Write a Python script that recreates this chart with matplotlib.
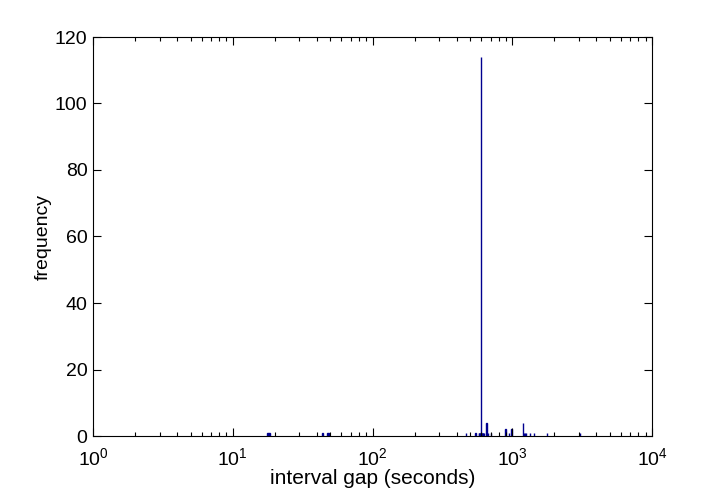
import matplotlib
matplotlib.use("Agg")
import matplotlib.pyplot as plt
from matplotlib.ticker import LogLocator

plt.rcParams['font.family'] = ['Liberation Sans', 'DejaVu Sans']
plt.rcParams['mathtext.default'] = 'regular'

# interval gaps (seconds) and their counts
gaps = [18, 44, 48, 467, 546, 575, 580, 585, 590, 595, 600, 605, 610, 615, 620, 625,
        654, 671, 707, 895, 953, 988, 1200, 1220, 1240, 1260, 1346, 1439, 1774, 3053]
counts = [1, 1, 1, 1, 1, 1, 1, 1, 1, 1, 114, 1, 1, 1, 1, 1,
          4, 1, 1, 2, 1, 2, 4, 1, 1, 1, 1, 1, 1, 1]

yticks = [0, 20, 40, 60, 80, 100, 120]

fig = plt.figure(figsize=(7.19, 4.98), dpi=100)
ax = fig.add_axes([93/719, 62/498, (652-93)/719, (436-37)/498])

color = '#00008F'
ax.bar(gaps, counts, width=1.0, color=color, edgecolor=color, linewidth=1.0, align='center')

ax.set_xscale('log')
ax.set_xlim(1, 1e4)
ax.set_ylim(0, 120)
ax.set_yticks(yticks)
ax.xaxis.set_major_locator(LogLocator(base=10, numticks=10))
ax.xaxis.set_minor_locator(LogLocator(base=10, subs=range(2, 10), numticks=20))

ax.tick_params(which='both', direction='in', top=True, right=True, labelsize=14, width=0.8)
ax.tick_params(which='major', length=6)
ax.tick_params(which='minor', length=3)
ax.tick_params(axis='x', which='major', pad=8)
ax.tick_params(axis='y', which='major', pad=4)
for s in ax.spines.values():
    s.set_linewidth(0.8)

ax.set_xlabel('interval gap (seconds)', fontsize=15, labelpad=0)
ax.set_ylabel('frequency', fontsize=14, labelpad=2)

fig.savefig('out.png', dpi=100)
